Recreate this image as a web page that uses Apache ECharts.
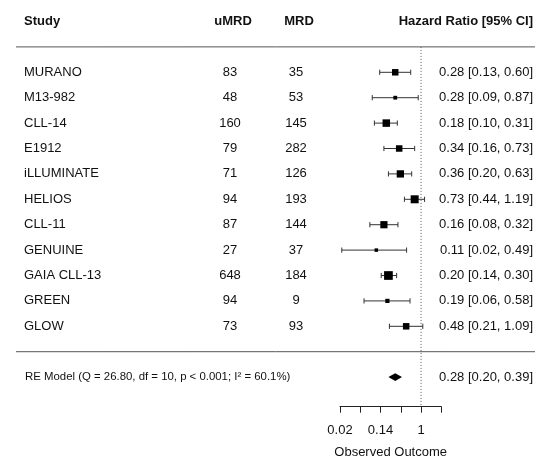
<!DOCTYPE html>
<html><head><meta charset="utf-8">
<script src="https://cdn.jsdelivr.net/npm/echarts@6/dist/echarts.min.js"></script>
<style>html,body{margin:0;padding:0;background:#fff}#c{width:535px;height:458px}</style>
</head><body><div id="c"></div>
<script>
// ---- data ----
const studies = ["MURANO","M13-982","CLL-14","E1912","iLLUMINATE","HELIOS","CLL-11","GENUINE","GAIA CLL-13","GREEN","GLOW"];
const uMRD = [83,48,160,79,71,94,87,27,648,94,73];
const MRD = [35,53,145,282,126,193,144,37,184,9,93];
const hr = [0.28,0.28,0.18,0.34,0.36,0.73,0.16,0.11,0.20,0.19,0.48];
const ciLow = [0.13,0.09,0.10,0.16,0.20,0.44,0.08,0.02,0.14,0.06,0.21];
const ciHigh = [0.60,0.87,0.31,0.73,0.63,1.19,0.32,0.49,0.30,0.58,1.09];
const weights = [8.3,1.9,10.7,8.3,10.2,11.9,10.0,1.2,13.6,2.9,8.3]; // estimated from square sizes
const pooledHR = [0.28,0.20,0.39]; // estimate, low, high
const modelLabel = "RE Model (Q = 26.80, df = 10, p < 0.001; I\u00b2 = 60.1%)";
const headers = ["Study","uMRD","MRD","Hazard Ratio [95% CI]"];
const tickLabels = ["0.02","","0.14","","1",""]; // exponents -4..1 (natural log)
const axisTitle = "Observed Outcome";

// ---- layout ----
const FONT = "'Liberation Sans', Arial, Helvetica, sans-serif";
const Y_MIN = -2, Y_MAX = 13.165;
const HEADER_ROW = -2, RULE_TOP = -1, RULE_BOTTOM = studies.length, POOLED_ROW = studies.length + 1;
const GRID_TOP = 21.5, GRID_BOTTOM = 51.3;
const COL = {study:24, u:230, m:296, uH:233, mH:299, right:533, ruleL:16, ruleR:535};

const f2 = v => v.toFixed(2);
const texts = [];
const bold = true;
texts.push([COL.study, HEADER_ROW, headers[0], 'left', bold, 13]);
texts.push([COL.uH, HEADER_ROW, headers[1], 'center', bold, 13]);
texts.push([COL.mH, HEADER_ROW, headers[2], 'center', bold, 13]);
texts.push([COL.right, HEADER_ROW, headers[3], 'right', bold, 13]);
studies.forEach((s,i)=>{
  texts.push([COL.study, i, s, 'left', false, 13]);
  texts.push([COL.u, i, String(uMRD[i]), 'center', false, 13]);
  texts.push([COL.m, i, String(MRD[i]), 'center', false, 13]);
  texts.push([COL.right, i, f2(hr[i])+' ['+f2(ciLow[i])+', '+f2(ciHigh[i])+']', 'right', false, 13]);
});
texts.push([COL.study+1, POOLED_ROW, modelLabel, 'left', false, 11.4]);
texts.push([COL.right, POOLED_ROW, f2(pooledHR[0])+' ['+f2(pooledHR[1])+', '+f2(pooledHR[2])+']', 'right', false, 13]);

const forestData = studies.map((s,i)=>[hr[i], ciLow[i], ciHigh[i], i, weights[i]]);

const chart = echarts.init(document.getElementById('c'), null, {renderer:'canvas'});
const yAxisCommon = {type:'value', min:Y_MIN, max:Y_MAX, inverse:true, show:false};
chart.setOption({
  animation:false,
  backgroundColor:'#fff',
  grid:[
    {left:0, right:0, top:GRID_TOP, bottom:GRID_BOTTOM, containLabel:false, outerBoundsMode:'none'},
    {left:340, width:101.3, top:GRID_TOP, bottom:GRID_BOTTOM, containLabel:false, outerBoundsMode:'none'}
  ],
  xAxis:[
    {gridIndex:0, type:'value', min:0, max:535, show:false},
    {gridIndex:1, type:'log', logBase:Math.E, min:Math.exp(-4), max:Math.exp(1),
     splitNumber:5, position:'bottom',
     axisLine:{show:true, onZero:false, lineStyle:{color:'#222', width:1}},
     axisTick:{show:true, inside:false, length:6, lineStyle:{color:'#222', width:1}},
     splitLine:{show:false}, minorTick:{show:false},
     axisLabel:{show:true, margin:17, fontSize:13, fontFamily:FONT, color:'#111', hideOverlap:false,
       showMinLabel:true, showMaxLabel:true,
       formatter:v=>{const k=Math.round(Math.log(v))+4; return tickLabels[k]||'';}},
     name:axisTitle, nameLocation:'middle', nameGap:39,
     nameTextStyle:{fontSize:13, fontFamily:FONT, color:'#111'}}
  ],
  yAxis:[Object.assign({gridIndex:0}, yAxisCommon), Object.assign({gridIndex:1}, yAxisCommon)],
  series:[
    {type:'line', xAxisIndex:0, yAxisIndex:0, data:[[COL.ruleL,RULE_TOP],[COL.ruleR,RULE_TOP]],
     symbol:'none', lineStyle:{color:'#555', width:1}, silent:true},
    {type:'line', xAxisIndex:0, yAxisIndex:0, data:[[COL.ruleL,RULE_BOTTOM],[COL.ruleR,RULE_BOTTOM]],
     symbol:'none', lineStyle:{color:'#555', width:1}, silent:true},
    {type:'line', xAxisIndex:1, yAxisIndex:1, data:[[1,RULE_TOP],[1,Y_MAX]],
     symbol:'none', lineStyle:{color:'#555', width:1, type:[1,2]}, silent:true, clip:false},
    {type:'custom', xAxisIndex:0, yAxisIndex:0, data:texts.map(t=>[t[0],t[1]]), clip:false,
     renderItem:(params, api)=>{
       const t = texts[params.dataIndex];
       const p = api.coord([api.value(0), api.value(1)]);
       return {type:'text', x:p[0], y:p[1], style:{text:t[2], align:t[3], verticalAlign:'middle',
         fontFamily:FONT, fontSize:t[5], fontWeight:t[4]?'bold':'normal', fill:'#111'}};
     }},
    {type:'custom', xAxisIndex:1, yAxisIndex:1, data:forestData, clip:false,
     renderItem:(params, api)=>{
       const row = api.value(3);
       const c = api.coord([api.value(0), row]);
       const l = api.coord([api.value(1), row]);
       const h = api.coord([api.value(2), row]);
       const s = 3 + 0.42*api.value(4);
       const cap = 2.6;
       const ls = {stroke:'#333', lineWidth:1};
       return {type:'group', children:[
         {type:'line', shape:{x1:l[0],y1:l[1],x2:h[0],y2:h[1]}, style:ls},
         {type:'line', shape:{x1:l[0],y1:l[1]-cap,x2:l[0],y2:l[1]+cap}, style:ls},
         {type:'line', shape:{x1:h[0],y1:h[1]-cap,x2:h[0],y2:h[1]+cap}, style:ls},
         {type:'rect', shape:{x:c[0]-s/2, y:c[1]-s/2, width:s, height:s}, style:{fill:'#000'}}
       ]};
     }},
    {type:'custom', xAxisIndex:1, yAxisIndex:1, data:[[pooledHR[0],pooledHR[1],pooledHR[2],POOLED_ROW]], clip:false,
     renderItem:(params, api)=>{
       const row = api.value(3);
       const c = api.coord([api.value(0), row]);
       const l = api.coord([api.value(1), row]);
       const h = api.coord([api.value(2), row]);
       const hh = 3.8;
       return {type:'polygon', shape:{points:[[l[0],l[1]],[c[0],c[1]-hh],[h[0],h[1]],[c[0],c[1]+hh]]}, style:{fill:'#000'}};
     }}
  ]
});
</script></body></html>
